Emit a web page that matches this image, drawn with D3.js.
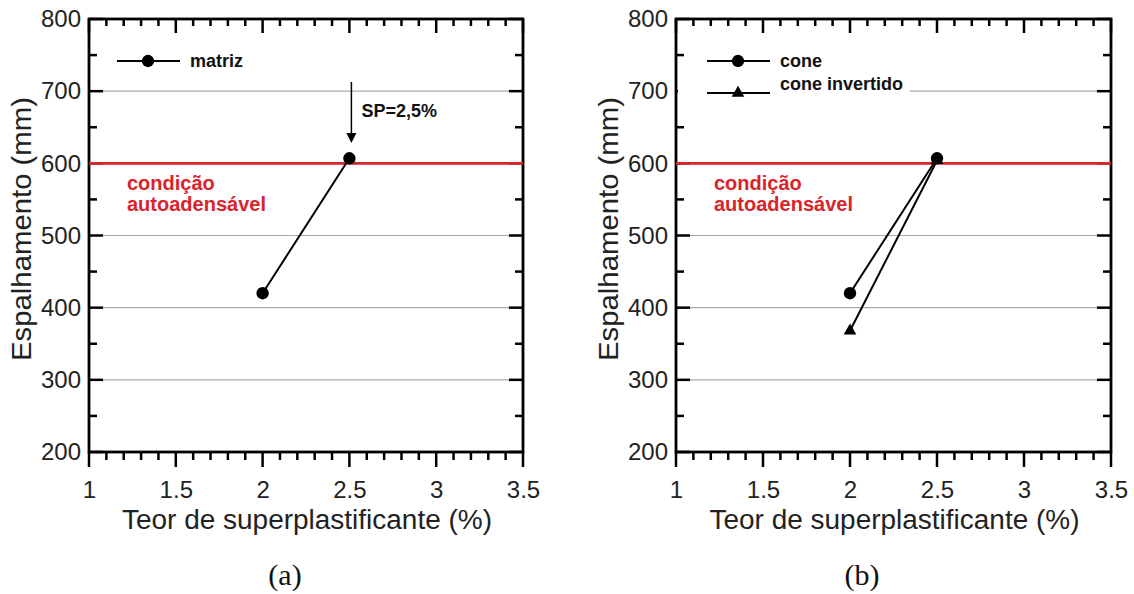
<!DOCTYPE html>
<html>
<head>
<meta charset="utf-8">
<title>Espalhamento</title>
<style>
  body { margin: 0; background: #fff; }
  svg { display: block; font-family: "Liberation Sans", Arial, sans-serif; }
</style>
</head>
<body>
<svg id="chart" width="1134" height="594"></svg>
<script src="https://d3js.org/d3.v7.min.js"></script>
<script>
// data
var xMajor = [1, 1.5, 2, 2.5, 3, 3.5];
var xMinor = [1.1, 1.2, 1.3, 1.4, 1.6, 1.7, 1.8, 1.9, 2.1, 2.2, 2.3, 2.4,
              2.6, 2.7, 2.8, 2.9, 3.1, 3.2, 3.3, 3.4];
var yMajor = [200, 300, 400, 500, 600, 700, 800];
var yMinor = [250, 350, 450, 550, 650, 750];
var gridLines = [300, 400, 500, 700];
var sccLimit = 600;

var teor = [2, 2.5];
var matriz = [420, 607];
var cone = [420, 607];
var coneInvertido = [368, 604];

var red = "#d9242b";
var svg = d3.select("#chart");

var yScale = d3.scaleLinear().domain([200, 800]).range([452, 19]);

// tick marks: vals on scale s, drawn along a fixed coordinate from a to b
function ticks(g, vals, s, vertical, a, b) {
    g.selectAll(null)
        .data(vals)
        .enter()
        .append("line")
        .attr("x1", function(d){ return vertical ? s(d) : a; })
        .attr("x2", function(d){ return vertical ? s(d) : b; })
        .attr("y1", function(d){ return vertical ? a : s(d); })
        .attr("y2", function(d){ return vertical ? b : s(d); })
        .attr("stroke", "#000")
        .attr("stroke-width", 2.5);
}

function drawPanel(left, right, caption, capX) {
    var x = d3.scaleLinear().domain([1, 3.5]).range([left, right]);
    var g = svg.append("g");
    var yb = yScale(200), yt = yScale(800);

    // gridlines
    g.selectAll("line.grid")
        .data(gridLines)
        .enter()
        .append("line")
        .attr("class", "grid")
        .attr("x1", left).attr("x2", right)
        .attr("y1", function(d){ return yScale(d); })
        .attr("y2", function(d){ return yScale(d); })
        .attr("stroke", "#a8a8a8")
        .attr("stroke-width", 1.2);

    // tick labels via d3 axes (tick lines drawn separately)
    var bx = g.append("g").attr("transform", "translate(0," + yb + ")")
        .call(d3.axisBottom(x).tickValues(xMajor).tickSize(0).tickPadding(29)
            .tickFormat(function(d){ return d; }));
    var ly = g.append("g").attr("transform", "translate(" + left + ",0)")
        .call(d3.axisLeft(yScale).tickValues(yMajor).tickSize(0).tickPadding(8)
            .tickFormat(function(d){ return d; }));
    g.selectAll(".domain").remove();
    g.selectAll(".tick line").remove();
    g.selectAll(".tick text")
        .attr("font-family", "Liberation Sans, Arial, sans-serif")
        .attr("font-size", 24)
        .attr("fill", "#222");

    // bottom ticks point out, top ticks point in, side ticks point in
    ticks(g, xMajor, x, true, yb, yb + 15);
    ticks(g, xMinor, x, true, yb, yb + 8);
    ticks(g, xMajor, x, true, yt, yt + 14);
    ticks(g, xMinor, x, true, yt, yt + 7);
    ticks(g, yMajor, yScale, false, left, left + 14);
    ticks(g, yMinor, yScale, false, left, left + 8);
    ticks(g, yMajor, yScale, false, right, right - 14);
    ticks(g, yMinor, yScale, false, right, right - 8);

    g.append("rect")
        .attr("x", left).attr("y", yt)
        .attr("width", right - left).attr("height", yb - yt)
        .attr("fill", "none")
        .attr("stroke", "#000")
        .attr("stroke-width", 2.8);

    // limit line
    g.append("line")
        .attr("x1", left).attr("x2", right)
        .attr("y1", yScale(sccLimit)).attr("y2", yScale(sccLimit))
        .attr("stroke", red)
        .attr("stroke-width", 2.6);
    var lab = g.append("text")
        .attr("x", left + 38).attr("y", yScale(sccLimit) + 27)
        .attr("fill", red)
        .attr("font-size", 20)
        .attr("font-weight", "bold");
    lab.append("tspan").attr("x", left + 38).text("condição");
    lab.append("tspan").attr("x", left + 38).attr("dy", 21).text("autoadensável");

    // titles
    g.append("text")
        .attr("x", (left + right) / 2 + 1).attr("y", 529)
        .attr("text-anchor", "middle")
        .attr("font-size", 27)
        .attr("textLength", 370)
        .attr("lengthAdjust", "spacingAndGlyphs")
        .attr("fill", "#222")
        .text("Teor de superplastificante (%)");
    g.append("text")
        .attr("transform", "translate(" + (left - 58) + ",229) rotate(-90)")
        .attr("text-anchor", "middle")
        .attr("font-size", 28)
        .attr("textLength", 264)
        .attr("lengthAdjust", "spacingAndGlyphs")
        .attr("fill", "#222")
        .text("Espalhamento (mm)");
    svg.append("text")
        .attr("x", capX).attr("y", 585)
        .attr("text-anchor", "middle")
        .attr("font-family", "Liberation Serif, Times New Roman, serif")
        .attr("font-size", 30)
        .attr("fill", "#111")
        .text(caption);

    return { g: g, x: x };
}

function symbolFor(marker) {
    return d3.symbol().type(marker === "circle" ? d3.symbolCircle : d3.symbolTriangle)
        .size(marker === "circle" ? 120 : 70);
}

function drawSeries(p, values, marker) {
    var line = d3.line()
        .x(function(d, i){ return p.x(teor[i]); })
        .y(function(d){ return yScale(d); });
    p.g.append("path")
        .datum(values)
        .attr("d", line)
        .attr("fill", "none")
        .attr("stroke", "#000")
        .attr("stroke-width", 2);
    p.g.selectAll(null)
        .data(values)
        .enter()
        .append("path")
        .attr("d", symbolFor(marker))
        .attr("transform", function(d, i){
            return "translate(" + p.x(teor[i]) + "," + yScale(d) + ")";
        })
        .attr("fill", "#000");
}

function legendItem(g, x0, y, marker, label, textDy) {
    g.append("line")
        .attr("x1", x0).attr("x2", x0 + 63)
        .attr("y1", y).attr("y2", y)
        .attr("stroke", "#000").attr("stroke-width", 2);
    g.append("path")
        .attr("d", symbolFor(marker))
        .attr("transform", "translate(" + (x0 + 31) + "," + y + ")")
        .attr("fill", "#000");
    g.append("text")
        .attr("x", x0 + 73).attr("y", y + textDy)
        .attr("font-size", 18)
        .attr("font-weight", "bold")
        .attr("fill", "#111")
        .text(label);
}

// panel (a)
var pa = drawPanel(89, 523, "(a)", 285);
drawSeries(pa, matriz, "circle");
legendItem(pa.g, 117, 61, "circle", "matriz", 6);

// annotation arrow
var ax = pa.x(2.5) + 2;
pa.g.append("line")
    .attr("x1", ax).attr("x2", ax)
    .attr("y1", 82).attr("y2", 134)
    .attr("stroke", "#000").attr("stroke-width", 1.5);
pa.g.append("path")
    .attr("d", "M" + (ax - 5) + ",133 L" + (ax + 5) + ",133 L" + ax + ",143 Z")
    .attr("fill", "#000");
pa.g.append("text")
    .attr("x", ax + 10).attr("y", 117)
    .attr("font-size", 18)
    .attr("font-weight", "bold")
    .attr("fill", "#111")
    .text("SP=2,5%");

// panel (b)
var pb = drawPanel(676, 1111, "(b)", 862);
pb.g.append("rect")
    .attr("x", 678).attr("y", 72)
    .attr("width", 232).attr("height", 26)
    .attr("fill", "#fff");
drawSeries(pb, coneInvertido, "triangle");
drawSeries(pb, cone, "circle");
legendItem(pb.g, 707, 61, "circle", "cone", 6);
legendItem(pb.g, 707, 93, "triangle", "cone invertido", -3);
</script>
</body>
</html>
